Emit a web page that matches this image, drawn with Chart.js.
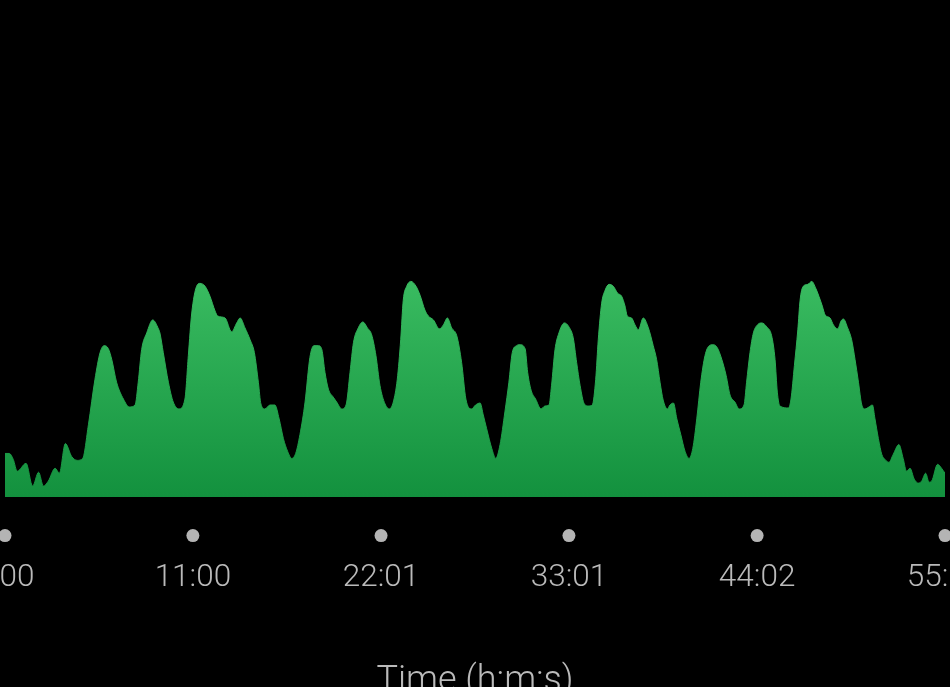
<!DOCTYPE html>
<html>
<head>
<meta charset="utf-8">
<script src="https://cdn.jsdelivr.net/npm/chart.js@4.4.1/dist/chart.umd.min.js"></script>
<style>
  html, body { margin: 0; padding: 0; background: #000; overflow: hidden; width: 950px; height: 687px; }
  #wrap { position: absolute; left: -100px; top: 0; width: 1150px; height: 704px; }
</style>
</head>
<body>
<div id="wrap"><canvas id="c"></canvas></div>
<script>
// elapsed time in seconds
const timeSec = [0,15,29,43,74,97,118,135,152,176,191,212,234,254,273,293,316,334,348,363,375,392,416,437,457,468,480,498,519,539,544,556,574,591,611,632,644,656,673,685,703,720,738,747,773,796,814,826,843,861,876,890,899,913,931,948,963,978,993,1007,1021,1036,1054,1071,1085,1101,1113,1124,1136,1153,1165,1183,1198,1212,1224,1241,1257,1273,1288,1303,1317,1335,1350,1364,1378,1390,1399,1411,1426,1444,1458,1475,1487,1505,1526,1540,1554,1569,1587,1604,1619,1639,1653,1669,1680,1692,1710,1724,1739,1756,1770,1782,1797,1809,1827,1836,1848,1864,1883,1897,1911,1920,1932,1946,1965,1981,1996,2008,2020,2035,2049,2063,2075,2084,2096,2108,2122,2137,2152,2166,2178,2186,2201,2213,2225,2242,2260,2277,2289,2301,2312,2327,2336,2348,2360,2374,2389,2403,2416,2430,2444,2459,2474,2488,2502,2518,2533,2547,2564,2579,2596,2605,2617,2629,2643,2658,2676,2693,2705,2713,2722,2752,2761,2773,2785,2793,2804,2820,2834,2848,2859,2871,2881,2898,2910,2925,2937,2945,2960,2974,2986,2998,3009,3021,3035,3047,3056,3068,3080,3091,3105,3120,3140,3155,3167,3179,3194,3208,3220,3234,3246,3255,3276,3290,3302];
// series values (relative units)
const seriesValues = [44,44,38,26,34,11,25,11,16,29,24,54,41,37,39,73,119,146,153,150,139,116,99,91,93,116,149,166,179,170,166,146,116,96,89,99,143,186,213,216,213,203,188,183,181,167,176,181,171,159,146,116,94,89,93,93,79,59,46,39,44,63,96,141,153,153,149,126,109,101,96,89,93,126,156,171,177,171,164,143,113,94,89,96,119,159,199,213,218,213,204,189,183,179,170,174,181,171,163,136,99,89,93,95,83,69,49,39,53,86,116,146,153,154,150,126,108,99,89,92,93,113,149,166,176,172,161,136,113,94,92,93,119,159,196,209,215,213,206,203,193,183,181,174,169,181,171,153,139,116,98,89,93,95,79,63,46,39,49,79,116,143,153,154,151,139,123,103,96,89,93,116,146,166,174,176,172,163,139,106,92,90,99,133,169,199,213,215,218,211,203,193,184,181,174,170,178,180,171,159,139,116,94,89,91,93,79,59,43,38,35,43,53,39,26,29,18,14,16,24,15,16,33,29,24];
// x-axis ticks
const tickValues = [0, 660, 1321, 1981, 2642, 3302];
const tickLabels = ['0:00', '11:00', '22:01', '33:01', '44:02', '55:02'];
const axisTitle = 'Time (h:m:s)';
const markerLevel = -39;   // level of the axis marker dots (below baseline)
const yMin = -51, yMax = 496;

const seriesPoints = timeSec.map((t, i) => ({ x: t, y: seriesValues[i] }));
const markerPoints = tickValues.map(v => ({ x: v, y: markerLevel }));

function greenGradient(context) {
  const chart = context.chart;
  const area = chart.chartArea;
  if (!area) return '#22a24c';
  const ys = chart.scales.y;
  const top = ys.getPixelForValue(Math.max(...seriesValues));
  const bottom = ys.getPixelForValue(0);
  const g = chart.ctx.createLinearGradient(0, top, 0, bottom);
  g.addColorStop(0, '#39bb60');
  g.addColorStop(1, '#13913e');
  return g;
}

new Chart(document.getElementById('c'), {
  type: 'line',
  data: {
    datasets: [
      {
        data: seriesPoints,
        fill: 'origin',
        backgroundColor: greenGradient,
        borderColor: greenGradient,
        borderWidth: 1,
        pointRadius: 0,
        tension: 0.2,
        cubicInterpolationMode: 'monotone'
      },
      {
        type: 'scatter',
        data: markerPoints,
        showLine: false,
        pointRadius: 6.5,
        pointBackgroundColor: '#b4b4b4',
        pointBorderWidth: 0,
        clip: false
      }
    ]
  },
  options: {
    responsive: true,
    maintainAspectRatio: false,
    animation: false,
    layout: { padding: { left: 105, right: 105, top: 0, bottom: 0 } },
    plugins: { legend: { display: false }, tooltip: { enabled: false } },
    scales: {
      x: {
        type: 'linear',
        min: 0,
        max: 3302,
        afterBuildTicks: (scale) => { scale.ticks = tickValues.map(v => ({ value: v })); },
        grid: { display: false, drawTicks: false },
        border: { display: false },
        ticks: {
          padding: 12,
          color: '#bababa',
          font: { family: 'Roboto', size: 31.5, weight: 300 },
          maxRotation: 0,
          autoSkip: false,
          callback: (value, index) => tickLabels[index]
        },
        title: {
          display: true,
          text: axisTitle,
          color: '#bababa',
          font: { family: 'Roboto', size: 36, weight: 300 },
          padding: { top: 51.6, bottom: 0 }
        }
      },
      y: {
        display: false,
        min: yMin,
        max: yMax
      }
    }
  }
});
</script>
</body>
</html>
